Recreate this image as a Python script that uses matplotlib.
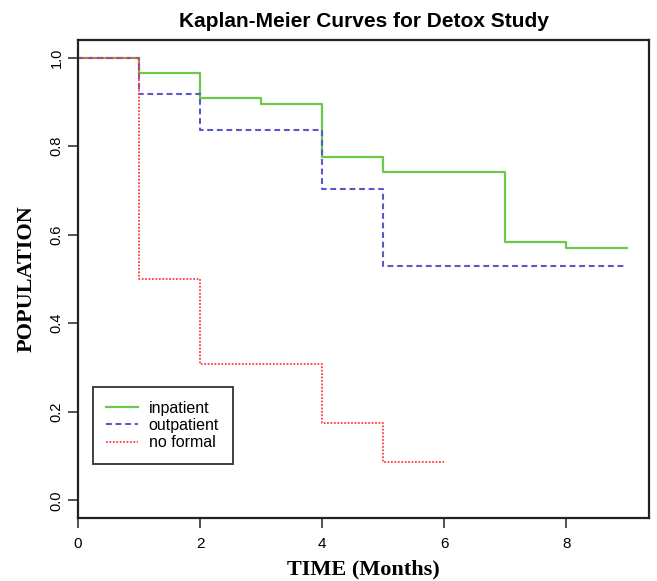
import matplotlib
matplotlib.use("Agg")
import matplotlib.pyplot as plt
from matplotlib.lines import Line2D

# Data (step times and survival estimates)
in_times = [0, 1, 2, 3, 4, 5, 7, 8, 9]
in_surv = [1.0, 0.966, 0.909, 0.895, 0.776, 0.741, 0.584, 0.570, 0.570]
out_times = [0, 1, 2, 4, 5, 9]
out_surv = [1.0, 0.919, 0.836, 0.704, 0.529, 0.529]
nf_times = [0, 1, 2, 4, 5, 6]
nf_surv = [1.0, 0.500, 0.308, 0.174, 0.086, 0.086]
labels = ["inpatient", "outpatient", "no formal"]
xticks = [0, 2, 4, 6, 8]
yticks = [0.0, 0.2, 0.4, 0.6, 0.8, 1.0]

green = "#6cc84a"
blue = "#5858c8"
red = "#ff4040"
dash_blue = (0, (2.8, 1.8))
dot_red = (0, (1, 0.9))

fig = plt.figure(figsize=(6.57, 5.81), dpi=100)
ax = fig.add_axes([0.1187, 0.1084, 0.8693, 0.8226])

ax.step(in_times, in_surv, where="post", color=green, lw=1.6, ls="-")
ax.step(out_times, out_surv, where="post", color=blue, lw=1.5, ls=dash_blue)
ax.step(nf_times, nf_surv, where="post", color=red, lw=1.3, ls=dot_red)

ax.set_xlim(0, 9.36)
ax.set_ylim(-0.04, 1.04)
ax.set_xticks(xticks)
ax.set_xticklabels([str(t) for t in xticks], fontfamily="Liberation Sans", fontsize=11)
ax.set_yticks(yticks)
ax.set_yticklabels([f"{t:.1f}" for t in yticks], fontfamily="Liberation Sans",
                   fontsize=10.5, rotation=90, va="center")
ax.tick_params(axis="both", direction="out", length=7, width=1.2, color="#333333")
ax.tick_params(axis="x", pad=7)
ax.tick_params(axis="y", pad=3.5)
for s in ax.spines.values():
    s.set_linewidth(1.6)
    s.set_color("#222222")

ax.set_title("Kaplan-Meier Curves for Detox Study", fontfamily="Liberation Sans",
             fontweight="bold", fontsize=15, pad=9.5)
ax.set_xlabel("TIME (Months)", fontfamily="Liberation Serif", fontweight="bold",
              fontsize=16)
ax.set_ylabel("POPULATION", fontfamily="Liberation Serif", fontweight="bold",
              fontsize=16)
ax.xaxis.set_label_coords(0.5, -0.086)
ax.yaxis.set_label_coords(-0.073, 0.5)

handles = [
    Line2D([], [], color=green, lw=1.6, ls="-"),
    Line2D([], [], color=blue, lw=1.5, ls=dash_blue),
    Line2D([], [], color=red, lw=1.3, ls=dot_red),
]
leg = ax.legend(handles, labels, loc="lower left", bbox_to_anchor=(0.026, 0.113),
                borderaxespad=0, frameon=True, fancybox=False, edgecolor="#111111",
                prop={"family": "Liberation Sans", "size": 11.5},
                handlelength=1.95, handletextpad=0.7, borderpad=0.85,
                labelspacing=0.15)
leg.get_frame().set_linewidth(1.4)

fig.savefig("out.png", dpi=100)
